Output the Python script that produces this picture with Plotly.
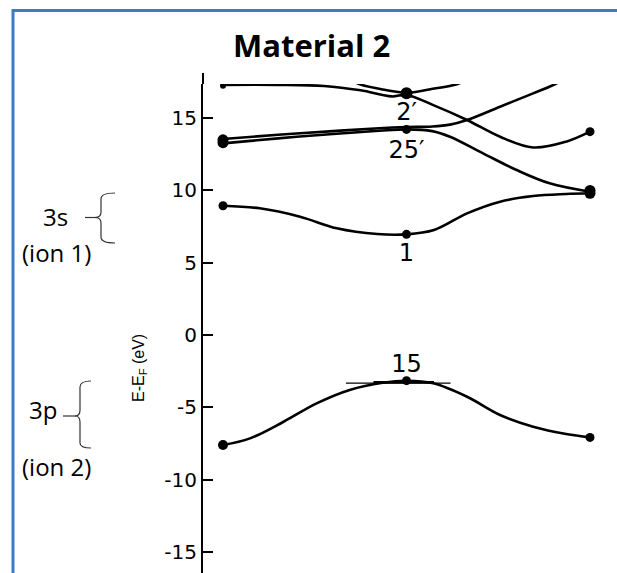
import plotly.graph_objects as go

# ---------------- data (k along the path, energy in eV) ----------------
k_band1 = [0, 0.2, 0.42, 0.62, 0.84, 1.0, 1.15, 1.33, 1.51, 1.69, 1.87, 2.0]
e_band1 = [8.94, 8.76, 8.18, 7.38, 6.98, 6.96, 7.26, 8.41, 9.22, 9.61, 9.75, 9.80]

k_val = [0, 0.147, 0.33, 0.51, 0.69, 0.87, 1.0, 1.146, 1.33, 1.51, 1.69, 1.87, 2.0]
e_val = [-7.61, -7.15, -6.0, -4.73, -3.80, -3.30, -3.16, -3.34, -4.27, -5.53, -6.34, -6.85, -7.08]

k_b25 = [0, 0.3, 0.6, 0.85, 1.0, 1.14, 1.237, 1.417, 1.60, 1.78, 2.0]
e_b25 = [13.25, 13.6, 13.9, 14.12, 14.22, 14.1, 13.71, 12.56, 11.41, 10.49, 9.91]

k_bup = [0, 0.3, 0.6, 0.85, 1.0, 1.14, 1.237, 1.33, 1.51, 1.69, 1.80, 1.86]
e_bup = [13.55, 13.85, 14.1, 14.3, 14.38, 14.42, 14.55, 14.87, 15.79, 16.71, 17.29, 17.7]

k_b2 = [0, 0.3, 0.55, 0.75, 0.92, 1.0, 1.146, 1.33, 1.51, 1.69, 1.87, 2.0]
e_b2 = [17.3, 17.3, 17.22, 16.92, 16.5, 16.6, 15.9, 14.87, 13.71, 12.97, 13.37, 14.06]

k_bu = [0.70, 0.75, 0.87, 1.0, 1.13, 1.27, 1.32]
e_bu = [17.6, 17.32, 16.98, 16.76, 17.0, 17.33, 17.6]

k_bar = [0.67, 1.24]
e_bar = [-3.33, -3.33]
k_bar2 = [0.82, 1.15]
e_bar2 = [-3.27, -3.27]

k_dots = [0, 0, 0, 0, 1, 1, 1, 1, 2, 2, 2, 2]
e_dots = [8.94, 13.3, 13.5, -7.61, 6.96, 14.22, 16.72, -3.16, 9.8, 10.0, 14.06, -7.08]
s_dots = [9, 11, 11, 10, 9, 9, 12, 9, 11, 11, 9, 9]

k_small = [0]
e_small = [17.24]

lab_text = ["2\u2032", "25\u2032", "1", "15"]
lab_k = [1.0, 1.0, 1.0, 1.0]
lab_e = [15.28, 12.66, 5.53, -2.14]

tick_vals = [15, 10, 5, 0, -5, -10, -15]
tick_text = ["15", "10", "5", "0", "-5", "-10", "-15"]

# ---------------- layout geometry (pixels) ----------------
W, H = 617, 573
ML, MT = 203, 84
PW, PH = W - ML, H - MT


def px(x):
    return (x - ML) / PW


def py(y):
    return (H - y) / PH


def path(pts):
    out = []
    for cmd, coords in pts:
        s = " ".join(f"{px(a):.5f},{py(b):.5f}" for a, b in coords)
        out.append(f"{cmd} {s}")
    return " ".join(out)


fig = go.Figure()

line_style = dict(color="black", width=2.6, shape="spline", smoothing=1.0)
for kk, ee in [(k_band1, e_band1), (k_val, e_val), (k_b25, e_b25),
               (k_bup, e_bup), (k_b2, e_b2), (k_bu, e_bu)]:
    fig.add_trace(go.Scatter(x=kk, y=ee, mode="lines", line=line_style,
                             hoverinfo="skip", showlegend=False))

fig.add_trace(go.Scatter(x=k_bar, y=e_bar, mode="lines",
                         line=dict(color="black", width=1.3),
                         showlegend=False, hoverinfo="skip"))
fig.add_trace(go.Scatter(x=k_bar2, y=e_bar2, mode="lines",
                         line=dict(color="black", width=2.6),
                         showlegend=False, hoverinfo="skip"))

fig.add_trace(go.Scatter(x=k_dots, y=e_dots, mode="markers",
                         marker=dict(color="black", size=s_dots, opacity=1,
                                     line=dict(width=0)),
                         showlegend=False, hoverinfo="skip"))
fig.add_trace(go.Scatter(x=k_small, y=e_small, mode="markers",
                         marker=dict(color="black", size=6, opacity=1,
                                     line=dict(width=0)),
                         showlegend=False, hoverinfo="skip"))

fig.add_trace(go.Scatter(x=lab_k, y=lab_e, mode="text", text=lab_text,
                         textfont=dict(family="DejaVu Sans", size=24, color="black"),
                         textposition="middle center",
                         showlegend=False, hoverinfo="skip"))

e_per_px = 1 / 14.46
y_top = (335 - MT) * e_per_px
y_bot = (335 - H) * e_per_px
x_left = (ML - 223) / 183.5
x_right = (W - 223) / 183.5

fig.update_xaxes(visible=False, range=[x_left, x_right])
fig.update_yaxes(range=[y_bot, y_top], showgrid=False, zeroline=False,
                 showline=True, linecolor="black", linewidth=2,
                 ticks="inside", ticklen=10, tickwidth=2, tickcolor="black",
                 tickvals=tick_vals, ticktext=tick_text,
                 tickfont=dict(family="DejaVu Sans", size=20, color="black"))

shapes = [
    # border
    dict(type="rect", xref="paper", yref="paper",
         x0=px(13), x1=px(W + 20), y0=py(H + 20), y1=py(10.5),
         line=dict(color="#3b7bc4", width=3)),
    # axis line extension above the clipped curves
    dict(type="line", xref="paper", yref="paper",
         x0=px(203), x1=px(203), y0=py(MT), y1=py(73),
         line=dict(color="black", width=2)),
    # 3s bracket
    dict(type="path", xref="paper", yref="paper",
         path=path([("M", [(115, 193)]), ("Q", [(101, 193), (101, 199)]),
                    ("L", [(101, 212)]), ("Q", [(101, 217.5), (95, 217.5)]),
                    ("Q", [(101, 217.5), (101, 223)]), ("L", [(101, 237)]),
                    ("Q", [(101, 243), (115, 243)])]),
         line=dict(color="#333333", width=1.2)),
    dict(type="line", xref="paper", yref="paper",
         x0=px(85), x1=px(96), y0=py(217.5), y1=py(217.5),
         line=dict(color="#333333", width=1.2)),
    # 3p bracket
    dict(type="path", xref="paper", yref="paper",
         path=path([("M", [(91, 381)]), ("Q", [(80, 381), (80, 387)]),
                    ("L", [(80, 410)]), ("Q", [(80, 416), (75, 416)]),
                    ("Q", [(80, 416), (80, 422)]), ("L", [(80, 443)]),
                    ("Q", [(80, 448), (91, 448)])]),
         line=dict(color="#333333", width=1.2)),
    dict(type="line", xref="paper", yref="paper",
         x0=px(63), x1=px(76), y0=py(416), y1=py(416),
         line=dict(color="#333333", width=1.2)),
]

side_font = dict(family="Open Sans", size=24, color="black")
annotations = [
    dict(text="<b>Material 2</b>", x=px(311), y=py(45), xref="paper", yref="paper",
         showarrow=False, xanchor="center", yanchor="middle",
         font=dict(family="Open Sans", size=31, color="black")),
    dict(text="3s", x=px(55), y=py(217), xref="paper", yref="paper",
         showarrow=False, xanchor="center", yanchor="middle", font=side_font),
    dict(text="(ion 1)", x=px(56), y=py(252), xref="paper", yref="paper",
         showarrow=False, xanchor="center", yanchor="middle", font=side_font),
    dict(text="3p", x=px(43), y=py(409), xref="paper", yref="paper",
         showarrow=False, xanchor="center", yanchor="middle", font=side_font),
    dict(text="(ion 2)", x=px(56), y=py(466), xref="paper", yref="paper",
         showarrow=False, xanchor="center", yanchor="middle", font=side_font),
    dict(text="E-E<sub>F</sub> (eV)", x=px(139), y=py(368), xref="paper", yref="paper",
         showarrow=False, xanchor="center", yanchor="middle", textangle=-90,
         font=dict(family="Liberation Sans", size=16, color="black")),
]

fig.update_layout(width=W, height=H, margin=dict(l=ML, r=0, t=MT, b=0),
                  paper_bgcolor="white", plot_bgcolor="white",
                  shapes=shapes, annotations=annotations, showlegend=False)

fig.write_html("out.html", config={"displayModeBar": False},
               post_script="document.body.style.margin='0px';"
                           "document.body.style.overflow='hidden';")
